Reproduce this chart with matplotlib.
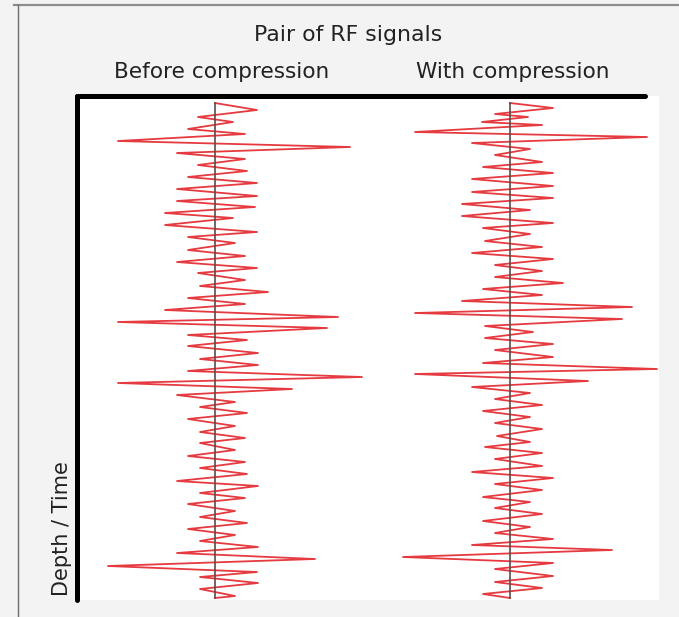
import matplotlib.pyplot as plt
from matplotlib.patches import Rectangle
from matplotlib.lines import Line2D

# RF signal vertices: depth (down the trace) and
# amplitude (sideways swing from the trace centre), same units for both
before_depth = [7, 14, 21, 26, 33, 38, 45, 51, 57, 63,
                69, 75, 81, 87, 93, 100, 105, 111, 117, 122,
                129, 136, 141, 147, 154, 160, 166, 172, 177, 184,
                190, 196, 202, 208, 214, 221, 226, 232, 239, 244,
                250, 257, 263, 269, 275, 281, 287, 293, 299, 306,
                311, 317, 323, 330, 336, 342, 347, 354, 360, 366,
                372, 378, 385, 390, 397, 402, 408, 415, 421, 427,
                433, 439, 445, 451, 457, 463, 470, 476, 481, 487,
                493, 500, 502]
before_amp = [0, 42, -17, 18, -27, 30, -97, 135, -38, 30,
              -17, 32, -27, 42, -38, 42, -38, 40, -50, 18,
              -50, 42, -27, 20, -27, 30, -38, 42, -17, 30,
              -15, 53, -27, 30, -50, 123, -97, 112, -27, 32,
              -27, 43, -15, 43, -27, 147, -97, 77, -38, 20,
              -15, 32, -27, 20, -15, 30, -15, 20, -27, 30,
              -15, 32, -38, 43, -15, 30, -27, 20, -15, 32,
              -27, 20, -15, 43, -38, 100, -107, 42, -15, 43,
              -15, 20, 0]

after_depth = [7, 12, 18, 21, 26, 29, 36, 41, 47, 53,
               59, 66, 71, 77, 83, 90, 96, 102, 108, 114,
               120, 127, 132, 138, 145, 151, 157, 163, 169, 175,
               181, 187, 193, 199, 205, 211, 217, 223, 230, 236,
               242, 248, 254, 261, 267, 273, 278, 285, 291, 297,
               303, 309, 315, 321, 327, 333, 340, 346, 351, 357,
               363, 370, 376, 382, 388, 394, 401, 406, 412, 418,
               425, 431, 437, 443, 449, 454, 461, 467, 473, 480,
               486, 492, 498, 502]
after_amp = [0, 43, -15, 18, -28, 32, -95, 137, -38, 20,
             -15, 32, -27, 43, -38, 43, -38, 43, -48, 20,
             -48, 43, -27, 20, -25, 32, -38, 43, -15, 32,
             -15, 53, -27, 32, -48, 122, -95, 112, -25, 23,
             -25, 43, -15, 43, -27, 147, -95, 78, -38, 20,
             -15, 32, -27, 20, -15, 32, -13, 20, -25, 32,
             -15, 32, -38, 43, -15, 32, -27, 20, -15, 32,
             -27, 20, -15, 43, -38, 102, -107, 43, -15, 43,
             -15, 32, -27, 0]

title = "Pair of RF signals"
col_labels = ["Before compression", "With compression"]
depth_label = "Depth / Time"

W, H = 679, 617
fig = plt.figure(figsize=(W / 100, H / 100), dpi=100, facecolor="#f3f3f3")

def fx(px):
    return px / W

def fy(py):
    return 1 - py / H

# page frame (only top and left edges show in the crop)
fig.add_artist(Line2D([fx(14), 1], [fy(5), fy(5)], color="#8c8c8c", lw=1.6))
fig.add_artist(Line2D([fx(18), fx(18)], [fy(5), 0], color="#6e6e6e", lw=1.0))

# white plotting area
fig.add_artist(Rectangle((fx(77), fy(600)), fx(659) - fx(77), fy(96) - fy(600),
                         facecolor="white", edgecolor="none", zorder=0))

ax = fig.add_axes([fx(77), fy(600), fx(645) - fx(77), fy(96) - fy(600)])
ax.set_facecolor("none")
ax.set_xlim(0, 568)
ax.set_ylim(504, 0)
for side in ["right", "bottom"]:
    ax.spines[side].set_visible(False)
for side in ["top", "left"]:
    ax.spines[side].set_linewidth(3.6)
    ax.spines[side].set_color("black")
    ax.spines[side].set_capstyle("round")
ax.set_xticks([])
ax.set_yticks([])

centres = [138, 433]
signals = [(before_depth, before_amp), (after_depth, after_amp)]
for c, (depth, amp) in zip(centres, signals):
    ax.axvline(c, ymin=0.004, ymax=1 - 7 / 504, color="#5b4b4a", lw=1.2, zorder=3)
    ax.plot([c + a for a in amp], depth, color="#e53a3f", lw=1.3, zorder=2,
            clip_on=False)

txt = dict(ha="center", va="center", color="#222222")
fig.text(fx(348), fy(35), title, fontsize=15.8, **txt)
fig.text(fx(222), fy(72), col_labels[0], fontsize=15.6, **txt)
fig.text(fx(513), fy(72), col_labels[1], fontsize=15.6, **txt)
fig.text(fx(62), fy(529), depth_label, rotation=90, fontsize=15, **txt)

fig.savefig("out.png", dpi=100, facecolor=fig.get_facecolor())
